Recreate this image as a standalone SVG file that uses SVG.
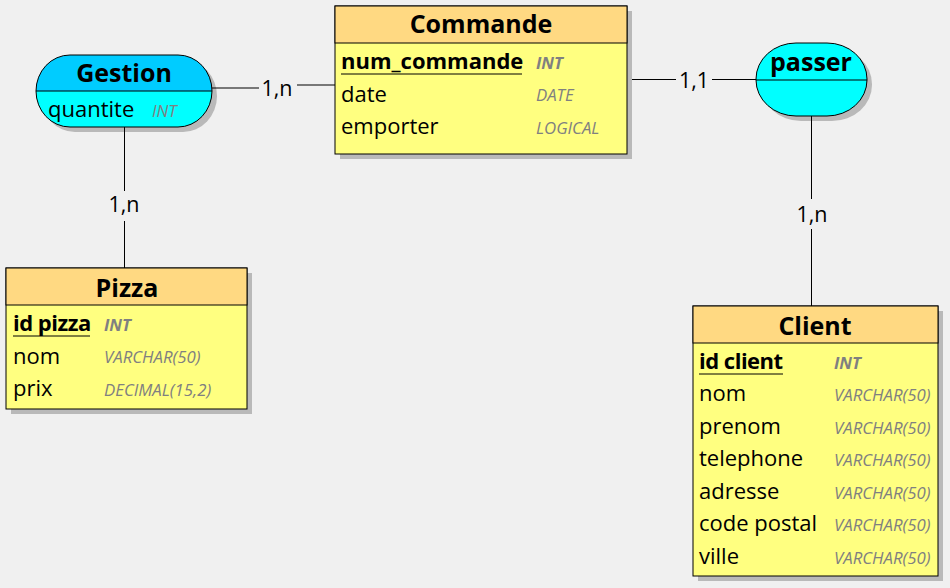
<svg xmlns="http://www.w3.org/2000/svg" width="950" height="588" viewBox="0 0 950 588">
<style>
.bg{fill:#F0F0F0}
.sh{fill:#B9B9B9}
.hd{fill:#FFD982;stroke:#000;stroke-width:1}
.bd{fill:#FFFF80;stroke:#000;stroke-width:1}
.ln{stroke:#000;stroke-width:1;fill:none}
.title{font-family:"Open Sans","Liberation Sans",sans-serif;font-weight:bold;font-size:25px;fill:#000;text-anchor:middle}
.row{font-family:"Open Sans","Liberation Sans",sans-serif;font-size:22px;fill:#000}
.key{font-family:"Open Sans","Liberation Sans",sans-serif;font-size:22px;font-weight:bold;fill:#000}
.ty{font-family:"Open Sans","Liberation Sans",sans-serif;font-size:16.8px;font-style:italic;fill:#808080}
.tyk{font-family:"Open Sans","Liberation Sans",sans-serif;font-size:16.8px;font-style:italic;font-weight:bold;fill:#808080}
.card{font-family:"Open Sans","Liberation Sans",sans-serif;font-size:21.5px;fill:#000;text-anchor:middle}
</style>
<rect class="bg" x="0" y="0" width="950" height="588"/>
<g id="Commande">
<rect class="sh" x="340" y="11" width="292" height="148"/>
<rect class="bd" x="335" y="6" width="292" height="148"/>
<rect class="hd" x="335" y="6" width="292" height="37"/>
<text class="title" x="481" y="33">Commande</text>
<text class="key" x="341" y="69">num_commande</text>
<line class="ln" x1="341" y1="74" x2="522" y2="74"/>
<text class="tyk" x="536" y="69">INT</text>
<text class="row" x="341" y="102">date</text>
<text class="ty" x="536" y="101">DATE</text>
<text class="row" x="341" y="134">emporter</text>
<text class="ty" x="536" y="134">LOGICAL</text>
</g>
<g id="Gestion">
<rect class="sh" x="41" y="60" width="176" height="72" rx="34" ry="36"/>
<path d="M70,55 H178 A34,36 0 0 1 212,91 H36 A34,36 0 0 1 70,55 Z" fill="#00CCFF"/>
<path d="M36,91 H212 A34,36 0 0 1 178,127 H70 A34,36 0 0 1 36,91 Z" fill="#00FFFF"/>
<rect class="ln" x="36" y="55" width="176" height="72" rx="34" ry="36"/>
<line class="ln" x1="36" y1="91" x2="212" y2="91"/>
<text class="title" x="124" y="82">Gestion</text>
<text class="row" x="48" y="117">quantite</text>
<text class="ty" x="152" y="117">INT</text>
</g>
<g id="passer">
<rect class="sh" x="761" y="48" width="111" height="73" rx="40" ry="36"/>
<rect x="756" y="43" width="111" height="73" rx="40" ry="36" fill="#00FFFF" stroke="#000" stroke-width="1"/>
<line class="ln" x1="756" y1="80" x2="867" y2="80"/>
<text class="title" x="811" y="71">passer</text>
</g>
<g id="Pizza">
<rect class="sh" x="11" y="273" width="241" height="141"/>
<rect class="bd" x="6" y="268" width="241" height="141"/>
<rect class="hd" x="6" y="268" width="241" height="37"/>
<text class="title" x="127" y="297">Pizza</text>
<text class="key" x="13" y="331" letter-spacing="-0.5">id pizza</text>
<line class="ln" x1="13" y1="336" x2="90" y2="336"/>
<text class="tyk" x="104" y="331">INT</text>
<text class="row" x="13" y="364">nom</text>
<text class="ty" x="104" y="363">VARCHAR(50)</text>
<text class="row" x="13" y="396">prix</text>
<text class="ty" x="104" y="396">DECIMAL(15,2)</text>
</g>
<g id="Client">
<rect class="sh" x="698" y="311" width="245" height="270"/>
<rect class="bd" x="693" y="306" width="245" height="270"/>
<rect class="hd" x="693" y="306" width="245" height="37"/>
<text class="title" x="815" y="335">Client</text>
<text class="key" x="699" y="369" letter-spacing="-0.5">id client</text>
<line class="ln" x1="699" y1="374" x2="783" y2="374"/>
<text class="tyk" x="834" y="369">INT</text>
<text class="row" x="699" y="401">nom</text>
<text class="ty" x="834" y="401">VARCHAR(50)</text>
<text class="row" x="699" y="434">prenom</text>
<text class="ty" x="834" y="434">VARCHAR(50)</text>
<text class="row" x="699" y="466">telephone</text>
<text class="ty" x="834" y="466">VARCHAR(50)</text>
<text class="row" x="699" y="499">adresse</text>
<text class="ty" x="834" y="499">VARCHAR(50)</text>
<text class="row" x="699" y="531">code postal</text>
<text class="ty" x="834" y="531">VARCHAR(50)</text>
<text class="row" x="699" y="564">ville</text>
<text class="ty" x="834" y="564">VARCHAR(50)</text>
</g>
<g id="connectors">
<line class="ln" x1="212" y1="88" x2="259" y2="88"/>
<line class="ln" x1="297" y1="85" x2="335" y2="85"/>
<text class="card" x="277" y="96">1,n</text>
<line class="ln" x1="632" y1="79.5" x2="676" y2="79.5"/>
<line class="ln" x1="712" y1="79.5" x2="756" y2="79.5"/>
<text class="card" x="694" y="88">1,1</text>
<line class="ln" x1="124.5" y1="127" x2="124.5" y2="191"/>
<line class="ln" x1="124.5" y1="221" x2="124.5" y2="268"/>
<text class="card" x="124" y="212">1,n</text>
<line class="ln" x1="811.5" y1="116" x2="811.5" y2="199"/>
<line class="ln" x1="811.5" y1="229" x2="811.5" y2="306"/>
<text class="card" x="812" y="222">1,n</text>
</g>
</svg>
